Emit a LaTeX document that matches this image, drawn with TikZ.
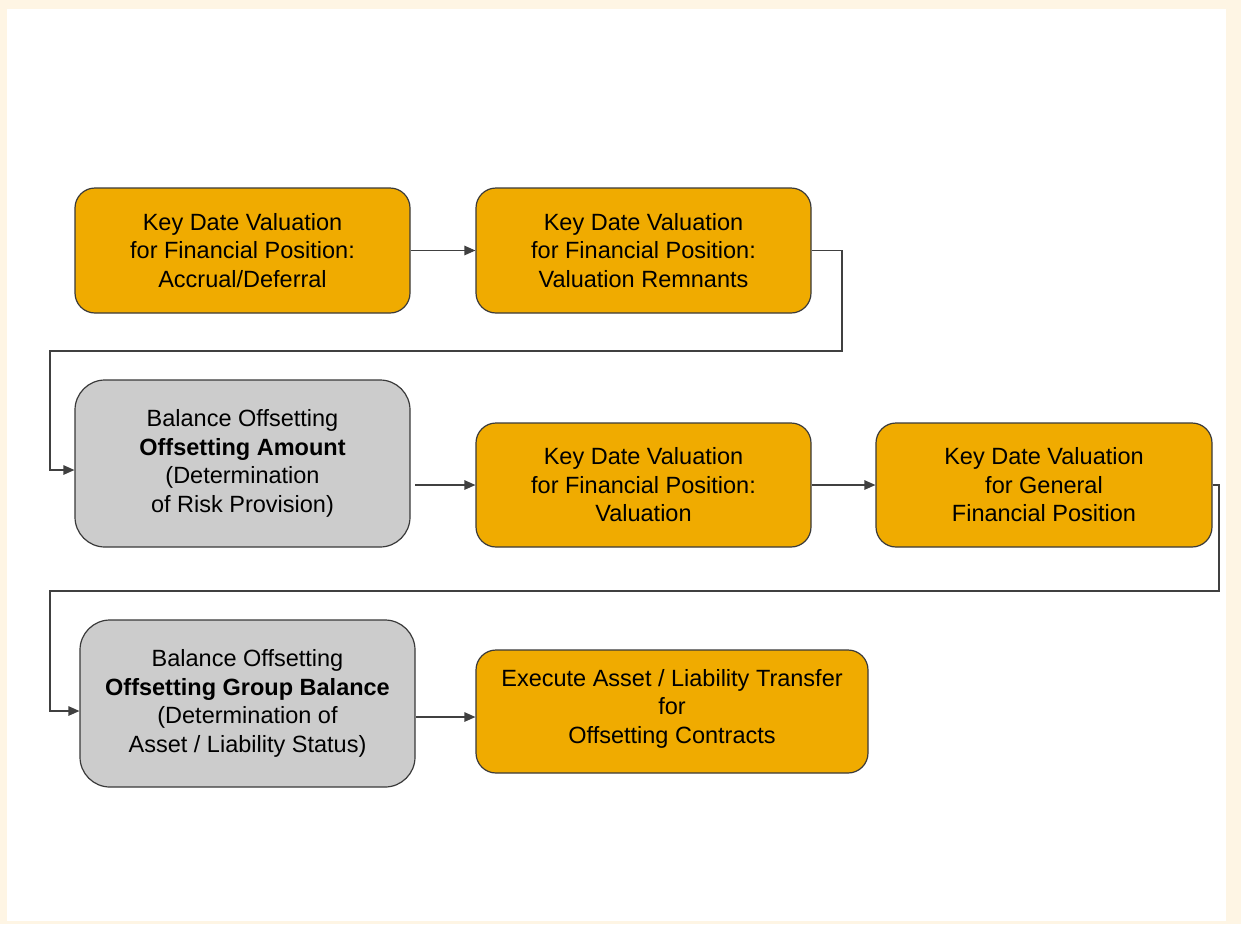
\documentclass[tikz,border=0pt]{standalone}
\usepackage{fontspec}
\setmainfont{Liberation Sans}
\usetikzlibrary{arrows.meta}
\definecolor{bgcream}{HTML}{FEF5E4}
\definecolor{sapor}{HTML}{F0AB00}
\definecolor{boxgray}{HTML}{CCCCCC}
\definecolor{edgecol}{HTML}{3A3A3A}
\begin{document}
\begin{tikzpicture}[x=1pt,y=-1pt,
  box/.style={draw=edgecol, line width=1.2pt, align=center, inner sep=0pt,
    font=\fontsize{23.5}{28.5}\selectfont},
  obox/.style={box, fill=sapor, rounded corners=20pt},
  gbox/.style={box, fill=boxgray, rounded corners=30pt},
  conn/.style={draw=black!75, line width=1.2pt, -{Triangle[length=11pt,width=9.5pt]}}]
\fill[bgcream] (0,0) rectangle (1241,924);
\fill[white] (7,9) rectangle (1226,921);
\useasboundingbox (0,0) rectangle (1241,924);

\node[obox, minimum width=335pt, minimum height=125pt] (a) at (242.5,250.5)
  {Key Date Valuation\\for Financial Position:\\Accrual/Deferral};
\node[obox, minimum width=335pt, minimum height=125pt] (b) at (643.5,250.5)
  {Key Date Valuation\\for Financial Position:\\Valuation Remnants};
\node[gbox, minimum width=335pt, minimum height=167pt] (c) at (242.5,463.5)
  {Balance Offsetting\\\textbf{Offsetting Amount}\\(Determination\\of Risk Provision)};
\node[obox, minimum width=335pt, minimum height=124pt] (d) at (643.5,485)
  {Key Date Valuation\\for Financial Position:\\Valuation};
\node[obox, minimum width=336pt, minimum height=124pt] (e) at (1044,485)
  {Key Date Valuation\\for General\\Financial Position};
\node[gbox, minimum width=335pt, minimum height=167pt] (f) at (247.5,703.5)
  {Balance Offsetting\\\textbf{Offsetting Group Balance}\\(Determination of\\Asset / Liability Status)};
\node[obox, minimum width=392pt, minimum height=123pt] (g) at (672,711.5)
  {Execute Asset / Liability Transfer\\for\\Offsetting Contracts\\[-26pt]\strut};

\coordinate (bc1) at (842,351);
\coordinate (bc2) at (50,351);
\coordinate (ef1) at (1219,591);
\coordinate (ef2) at (50,591);
\coordinate (cd0) at (415,485);
\coordinate (fg0) at (416,717);

\draw[conn] (a.east) -- (b.west);
\draw[conn] (b.east) -| (bc1) -- (bc2) |- ([yshift=-6.5pt]c.west);
\draw[conn] (cd0) -- (d.west);
\draw[conn] (d.east) -- (e.west);
\draw[conn] (e.east) -| (ef1) -- (ef2) |- ([yshift=-7.5pt]f.west);
\draw[conn] (fg0) -- ([yshift=-5.5pt]g.west);
\end{tikzpicture}
\end{document}
